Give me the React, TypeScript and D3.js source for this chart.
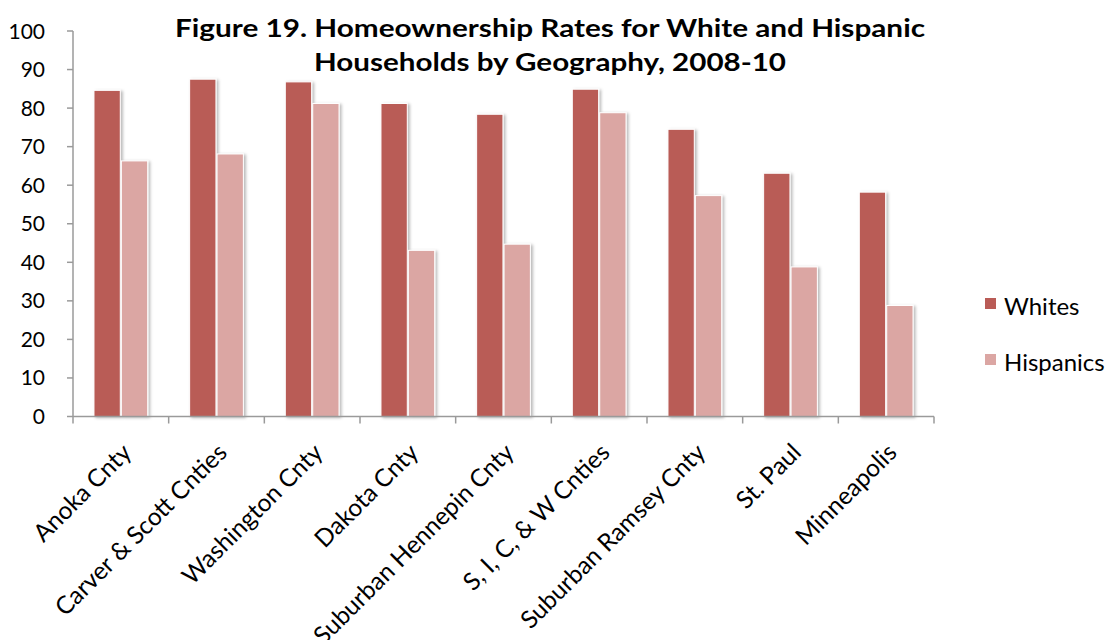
import React from "react";
import * as d3 from "d3";

const categories = [
  "Anoka Cnty",
  "Carver & Scott Cnties",
  "Washington Cnty",
  "Dakota Cnty",
  "Suburban Hennepin Cnty",
  "S, I, C, & W Cnties",
  "Suburban Ramsey Cnty",
  "St. Paul",
  "Minneapolis",
];
const whites = [84.6, 87.5, 86.8, 81.2, 78.4, 84.9, 74.5, 63.1, 58.2];
const hispanics = [66.3, 68.1, 81.2, 43.1, 44.7, 78.8, 57.3, 38.8, 28.8];
const yTicks = [0, 10, 20, 30, 40, 50, 60, 70, 80, 90, 100];
const seriesNames = ["Whites", "Hispanics"];
const colors = ["#B95B56", "#DBA6A3"];
const titleLines = [
  "Figure 19. Homeownership Rates for White and Hispanic",
  "Households by Geography, 2008-10",
];

const W = 1107;
const H = 640;
const FONT = "Lato, 'Open Sans', sans-serif";

export default function App() {
  const x0 = d3.scaleBand<string>().domain(categories).range([73, 934]).padding(0);
  const x1 = d3
    .scaleBand<string>()
    .domain(seriesNames)
    .range([0, x0.bandwidth()])
    .paddingInner(0.04)
    .paddingOuter(0.765);
  const y = d3.scaleLinear().domain([0, 100]).range([416.5, 31]);
  const series = [whites, hispanics];

  return (
    <svg width={W} height={H} style={{ position: "absolute", left: 0, top: 0 }}>
      <defs>
        <filter id="sh" x="-30%" y="-10%" width="160%" height="120%">
          <feDropShadow dx="2" dy="1" stdDeviation="1.6" floodColor="#000" floodOpacity="0.28" />
        </filter>
      </defs>
      <rect width={W} height={H} fill="#fff" />
      {titleLines.map((t, i) => (
        <text
          key={i}
          x={550}
          y={37 + i * 34}
          textAnchor="middle"
          fontFamily={FONT}
          fontWeight="bold"
          fontSize={25}
          textLength={i === 0 ? 750 : 472}
          lengthAdjust="spacingAndGlyphs"
          fill="#000"
        >
          {t}
        </text>
      ))}
      {/* y axis */}
      <line x1={73} x2={73} y1={y(100)} y2={y(0)} stroke="#9a9a9a" strokeWidth={1.5} />
      {yTicks.map((t) => (
        <g key={t}>
          <line x1={67} x2={73} y1={y(t)} y2={y(t)} stroke="#9a9a9a" strokeWidth={1.5} />
          <text x={45} y={y(t) + 7.5} textAnchor="end" fontFamily={FONT} fontSize={21} fill="#000">
            {t}
          </text>
        </g>
      ))}
      {/* bars */}
      {categories.map((c, ci) => (
        <g key={c}>
          {series.map((s, si) => (
            <rect
              key={si}
              x={(x0(c) as number) + (x1(seriesNames[si]) as number)}
              y={y(s[ci])}
              width={x1.bandwidth()}
              height={y(0) - y(s[ci])}
              fill={colors[si]}
              stroke="#fff"
              strokeWidth={1}
              filter="url(#sh)"
            />
          ))}
        </g>
      ))}
      {/* x axis */}
      <line x1={73} x2={934} y1={y(0)} y2={y(0)} stroke="#9a9a9a" strokeWidth={1.5} />
      {categories.concat([""]).map((c, i) => {
        const xx = 73 + i * x0.step();
        return <line key={i} x1={xx} x2={xx} y1={y(0)} y2={y(0) + 7} stroke="#9a9a9a" strokeWidth={1.5} />;
      })}
      {categories.map((c) => {
        const cx = (x0(c) as number) + x0.bandwidth() / 2 + 12;
        const cy = 454;
        return (
          <text
            key={c}
            transform={`translate(${cx},${cy}) rotate(-45)`}
            textAnchor="end"
            fontFamily={FONT}
            fontSize={24.5}
            fill="#000"
          >
            {c}
          </text>
        );
      })}
      {/* legend */}
      {seriesNames.map((n, i) => (
        <g key={n}>
          <rect x={985} y={298 + i * 56} width={11} height={11} fill={colors[i]} />
          <text x={1004} y={315 + i * 56} fontFamily={FONT} fontSize={24} fill="#000">
            {n}
          </text>
        </g>
      ))}
    </svg>
  );
}
